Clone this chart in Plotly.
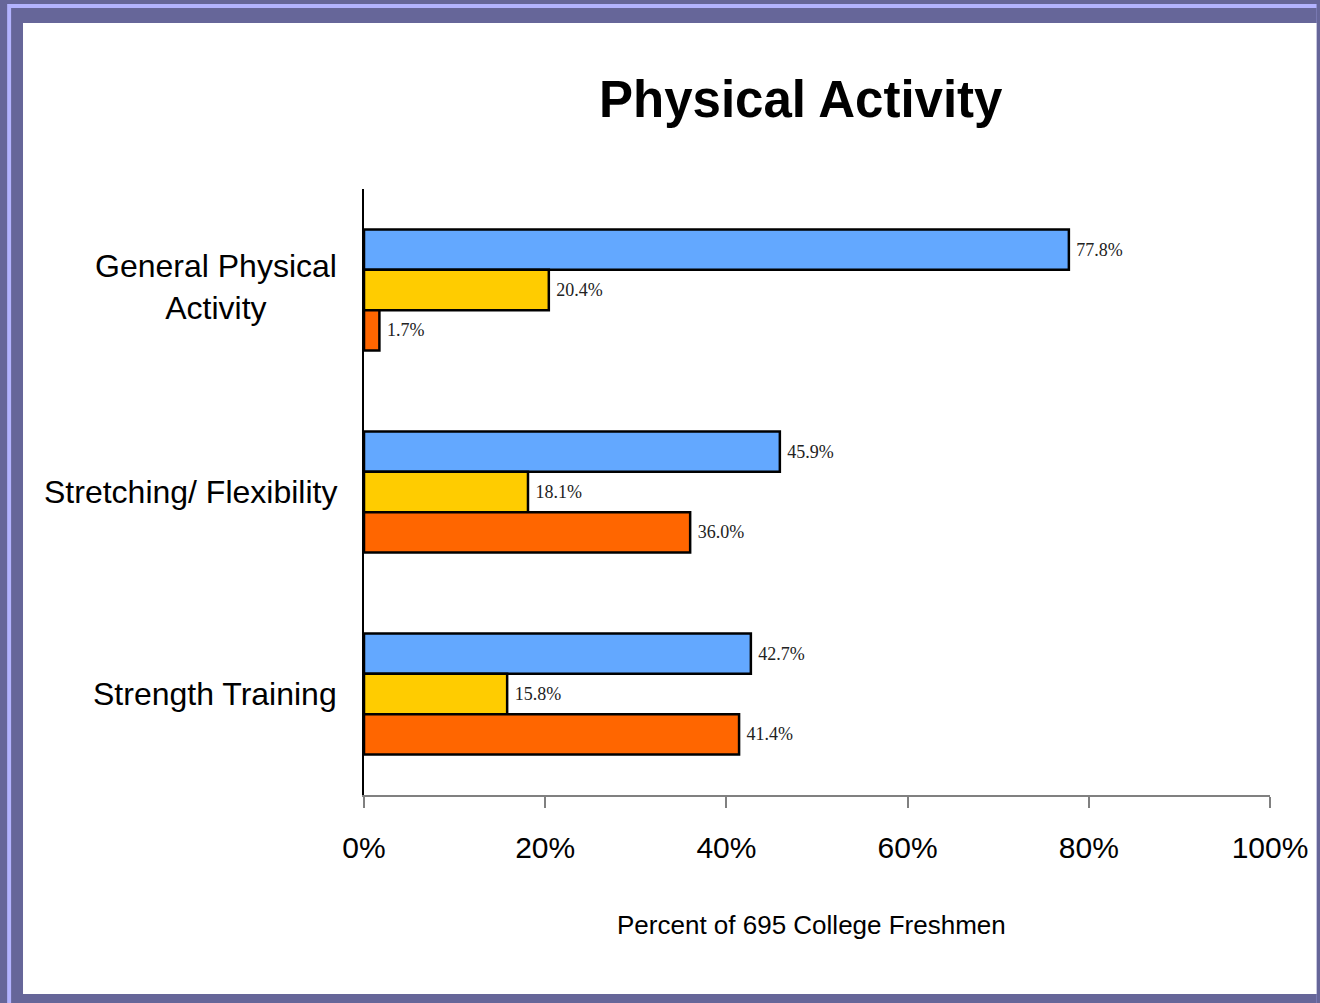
import plotly.graph_objects as go

categories = ["General Physical<br>Activity", "Stretching/ Flexibility", "Strength Training"]
cat_keys = ["General Physical Activity", "Stretching/ Flexibility", "Strength Training"]
series_names = ["Series A", "Series B", "Series C"]
series_values = [
    [77.8, 45.9, 42.7],
    [20.4, 18.1, 15.8],
    [1.7, 36.0, 41.4],
]
series_colors = ["#63a8ff", "#ffcc00", "#ff6600"]
x_ticks = [0, 20, 40, 60, 80, 100]
x_ticklabels = ["0%", "20%", "40%", "60%", "80%", "100%"]

W, H = 1320, 1003
L, R, T, B = 364, 1278, 189, 795
pw, ph = R - L, B - T

def px(x):
    return (x - L) / pw

def py(y):
    return (B - y) / ph

SANS = "Liberation Sans, Arial, sans-serif"

fig = go.Figure()
for name, vals, col in zip(series_names, series_values, series_colors):
    fig.add_trace(go.Bar(
        y=cat_keys, x=vals, name=name, orientation="h",
        marker=dict(color=col, line=dict(color="black", width=2.5)),
        text=[f" {v:.1f}%" for v in vals], textposition="outside",
        textfont=dict(family="Liberation Serif, Times New Roman, serif", size=18, color="#222"),
        cliponaxis=False, showlegend=False,
    ))

shapes = [
    dict(type="rect", xref="paper", yref="paper", x0=px(4), x1=px(W + 5), y0=py(4), y1=py(H + 5),
         fillcolor="#b3b3ff", line=dict(width=0), layer="below"),
    dict(type="rect", xref="paper", yref="paper", x0=px(8), x1=px(W + 5), y0=py(8), y1=py(H + 5),
         fillcolor="#666699", line=dict(width=0), layer="below"),
    dict(type="rect", xref="paper", yref="paper", x0=px(20), x1=px(W + 5), y0=py(23), y1=py(994),
         fillcolor="white", line=dict(width=0), layer="below"),
]

annotations = []
for lab, key in zip(categories, cat_keys):
    annotations.append(dict(
        x=px(339), xref="paper", y=key, yref="y", text=lab, showarrow=False,
        xanchor="right", yanchor="middle", align="center",
        yshift=3 if "<br>" in lab else 0,
        font=dict(family=SANS, size=32, color="black"),
    ))
annotations.append(dict(
    x=px(815), xref="paper", y=py(925), yref="paper", text="Percent of 695 College Freshmen",
    showarrow=False, xanchor="center", yanchor="middle",
    font=dict(family=SANS, size=26, color="black"),
))
annotations.append(dict(
    x=px(805), xref="paper", y=py(100), yref="paper", text="<b>Physical Activity</b>",
    showarrow=False, xanchor="center", yanchor="middle",
    font=dict(family=SANS, size=51, color="black"),
))

fig.update_layout(
    width=W, height=H,
    margin=dict(l=L, r=W - R, t=T, b=H - B, pad=0),
    paper_bgcolor="#666699", plot_bgcolor="rgba(0,0,0,0)",
    barmode="group", bargap=0.4, bargroupgap=0,
    shapes=shapes, annotations=annotations,
    xaxis=dict(range=[0, 100], tickvals=x_ticks, ticktext=x_ticklabels,
               showgrid=False, zeroline=False, showline=True, linecolor="#808080", linewidth=1.5,
               ticks="outside", ticklen=11, tickcolor="#808080", tickwidth=1.5,
               tickfont=dict(family=SANS, size=30, color="black"), ticklabelstandoff=14),
    yaxis=dict(autorange="reversed", showticklabels=False, showgrid=False, zeroline=False,
               showline=True, linecolor="black", linewidth=1.5, ticks=""),
)

fig.write_html("out.html")
